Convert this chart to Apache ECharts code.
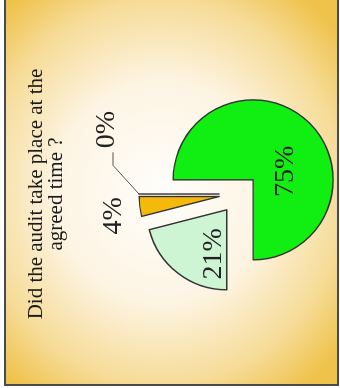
<!DOCTYPE html>
<html lang="en">
<head>
    <meta charset="UTF-8">
    <title>Audit on time</title>
    <script src="https://cdn.jsdelivr.net/npm/echarts@6/dist/echarts.min.js"></script>
    <style>
        html, body { margin: 0; padding: 0; width: 340px; height: 388px; overflow: hidden; background: #fff; }
        #frame {
            position: absolute; left: 4px; top: 0; width: 331px; height: 384px;
            border-left: 2px solid #4a4a4a; border-right: 2px solid #4a4a4a; border-bottom: 2px solid #4a4a4a;
            background: radial-gradient(ellipse 70% 64% at 47% 50%, #fffefb 0%, #fdf4e3 45%, #f6dc98 78%, #efc24c 100%);
        }
        /* chart is drawn upright, then turned a quarter to the left like the original */
        #main {
            position: absolute; left: -24px; top: 24px; width: 388px; height: 340px;
            transform: rotate(-90deg);
        }
    </style>
</head>
<body>
<div id="frame"></div>
<div id="main"></div>
<script type="text/javascript">
    var answers = ['Yes', 'No', 'Partly', 'No answer'];
    var shares = [75, 21, 4, 0];
    var sliceColors = ['#11ee11', '#cdf5d3', '#f4b90a', '#8080ff'];

    // small nudges so the labels sit where the original put them
    var labelShift = [[-22, 2], [-10, 13], [28, 4], [98, -2]];

    var myChart = echarts.init(document.getElementById('main'));

    var pieData = [];
    for (var i = 0; i < answers.length; i++) {
        var item = {
            name: answers[i],
            value: shares[i],
            selected: true,
            itemStyle: { color: sliceColors[i] }
        };
        if (i < 2) {
            item.label = { position: 'inside' };
        } else if (i == 2) {
            item.labelLine = { show: false };
        }
        pieData.push(item);
    }

    myChart.setOption({
        title: {
            text: 'Did the audit take place at the\nagreed time ?',
            left: 'center',
            top: 21,
            textStyle: {
                fontFamily: 'Liberation Serif',
                fontSize: 21,
                fontWeight: 'normal',
                color: '#1a1a1a',
                lineHeight: 20
            }
        },
        series: [{
            type: 'pie',
            center: ['50%', 239],
            radius: 80,
            startAngle: 90,
            clockwise: true,
            selectedMode: 'multiple',
            selectedOffset: 20,
            avoidLabelOverlap: false,
            animation: false,
            itemStyle: { borderColor: '#333', borderWidth: 1.4 },
            emphasis: { scale: false },
            label: {
                show: true,
                position: 'outside',
                fontFamily: 'Liberation Serif',
                fontSize: 28,
                color: '#222',
                formatter: function (p) { return p.value + '%'; }
            },
            labelLine: {
                show: true,
                length: 30,
                length2: 10,
                lineStyle: { color: '#555', width: 1 }
            },
            labelLayout: function (p) {
                var s = labelShift[p.dataIndex];
                var out = { dx: s[0], dy: s[1], hideOverlap: false };
                if (p.dataIndex == 3 && p.labelLinePoints) {
                    // leader keeps its start on the slice and bends toward the moved label
                    var left = p.labelRect.x + s[0];
                    var mid = p.labelRect.y + s[1] + p.labelRect.height / 2 + 6;
                    out.labelLinePoints = [
                        p.labelLinePoints[0],
                        [left - 17, mid],
                        [left - 4, mid]
                    ];
                }
                return out;
            },
            data: pieData
        }]
    });
</script>
</body>
</html>
